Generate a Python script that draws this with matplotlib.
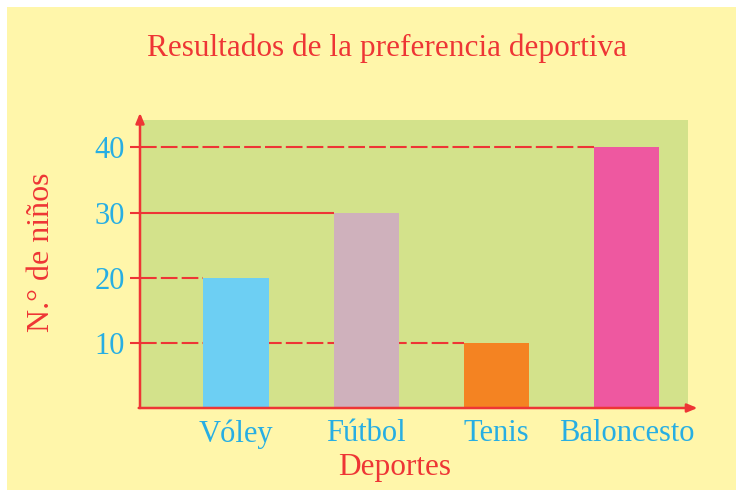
import numpy as np
import matplotlib.pyplot as plt
from matplotlib.patches import Rectangle

deportes = ["Vóley", "Fútbol", "Tenis", "Baloncesto"]
ninos = [20, 30, 10, 40]
bar_colors = ["#6DCFF3", "#CFB1BC", "#F48322", "#EE58A0"]
y_ticks = [10, 20, 30, 40]
# which bar each guide line runs to
line_stop = {40: "Baloncesto", 30: "Fútbol", 20: "Vóley", 10: "Tenis"}

RED = "#EE3535"
BLUE = "#27AEE3"
YELLOW = "#FFF6AA"
GREEN = "#D3E28B"

plt.rcParams['font.family'] = ['Liberation Serif', 'DejaVu Serif']

fig = plt.figure(figsize=(7.36, 4.9), dpi=100, facecolor="white")
fig.patches.append(Rectangle((7 / 736, 0), 1, 1 - 7 / 490, transform=fig.transFigure,
                             facecolor=YELLOW, edgecolor="none", zorder=-10))

ax = fig.add_axes([140 / 736, 82 / 490, 548 / 736, 288 / 490])
ax.set_facecolor(GREEN)
x = np.arange(len(deportes))
width = 0.5
ax.set_xlim(-0.737, 3.472)
ax.set_ylim(0, 44.2)

# guide lines behind the bars: 30 is solid, the rest dashed
xmin = ax.get_xlim()[0]
for v in y_ticks:
    end = x[deportes.index(line_stop[v])] - width / 2
    ls = "-" if v == 30 else (0, (8, 2))
    ax.plot([xmin, end], [v, v], color=RED, lw=1.5, ls=ls, zorder=1, solid_capstyle="butt")

ax.bar(x, ninos, width=width, color=bar_colors, zorder=2)

for s in ax.spines.values():
    s.set_visible(False)

# axes with arrows
arrow = dict(arrowstyle="-|>,head_length=0.6,head_width=0.25", color=RED, lw=1.8,
             shrinkA=0, shrinkB=0)
ax.annotate("", xy=(xmin, 45.3), xytext=(xmin, 0), annotation_clip=False, arrowprops=arrow)
ax.annotate("", xy=(3.545, 0), xytext=(xmin - 0.01, 0), annotation_clip=False, arrowprops=arrow)

ax.set_yticks(y_ticks)
ax.set_yticklabels([str(t) for t in y_ticks])
ax.tick_params(axis="y", colors=RED, length=7, width=1.5, pad=4, labelsize=22, labelcolor=BLUE)
ax.set_xticks(x)
ax.set_xticklabels(deportes)
ax.tick_params(axis="x", length=0, pad=8, labelsize=22, labelcolor=BLUE)

fig.text(387 / 736, 1 - 48 / 490, "Resultados de la preferencia deportiva", color=RED,
         fontsize=22.5, ha="center", va="center")
fig.text(42 / 736, 1 - 252 / 490, "N.° de niños", color=RED, fontsize=23,
         rotation=90, ha="center", va="center")
fig.text(395 / 736, 1 - 467 / 490, "Deportes", color=RED, fontsize=22.5,
         ha="center", va="center")

fig.savefig("out.png", dpi=100, facecolor=fig.get_facecolor())
